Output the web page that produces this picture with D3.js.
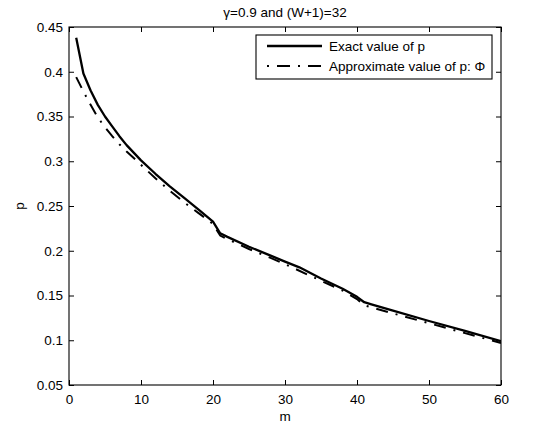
<!DOCTYPE html>
<html>
<head>
<meta charset="utf-8">
<script src="https://cdn.jsdelivr.net/npm/d3@7"></script>
<style>
  html, body { margin: 0; padding: 0; background: #fff; }
  svg { display: block; }
  text { font-family: "Liberation Sans", Arial, Helvetica, sans-serif; fill: #000; }
</style>
</head>
<body>
<svg id="chart" width="552" height="428"></svg>
<script>
// ---- data ----
const titleText = "γ=0.9 and (W+1)=32";
const xLabel = "m";
const yLabel = "p";
const seriesNames = ["Exact value of p", "Approximate value of p: Φ"];

const exactM = [1, 2, 3, 4, 5, 6, 7, 8, 10, 12, 14, 16, 18, 20, 21, 22, 25, 28, 30, 32, 35, 38, 40, 41, 42, 45, 50, 55, 60];
const exactP = [0.438, 0.398, 0.379, 0.363, 0.350, 0.339, 0.328, 0.318, 0.301, 0.286, 0.272, 0.259, 0.246, 0.2325, 0.2195, 0.2155, 0.2045, 0.1945, 0.1878, 0.1815, 0.1690, 0.1575, 0.1485, 0.1425, 0.1400, 0.1330, 0.1215, 0.1105, 0.0990];

const approxM = [1, 2, 3, 4, 5, 6, 7, 8, 10, 12, 14, 16, 18, 20, 21, 22, 25, 28, 30, 35, 38, 40, 41, 45, 50, 55, 60];
const approxP = [0.394, 0.378, 0.363, 0.349, 0.338, 0.328, 0.319, 0.311, 0.296, 0.281, 0.267, 0.254, 0.242, 0.230, 0.217, 0.213, 0.202, 0.192, 0.185, 0.1665, 0.1555, 0.146, 0.139, 0.130, 0.119, 0.108, 0.097];

const xTicks = [0, 10, 20, 30, 40, 50, 60];
const yTicks = [0.05, 0.1, 0.15, 0.2, 0.25, 0.3, 0.35, 0.4, 0.45];
const xDomain = [0, 60];
const yDomain = [0.05, 0.45];

// ---- layout ----
const L = 69, R = 501, T = 27, B = 385;
const svg = d3.select("#chart");
const x = d3.scaleLinear().domain(xDomain).range([L, R]);
const y = d3.scaleLinear().domain(yDomain).range([B, T]);
const fs = 13.5;
const tickLen = 5;

const fmtY = d => String(+d.toFixed(2));

// axes (MATLAB style, ticks inward, box on)
const axB = svg.append("g").attr("transform", `translate(0,${B})`)
  .call(d3.axisBottom(x).tickValues(xTicks).tickSizeInner(-tickLen).tickSizeOuter(0).tickPadding(9).tickFormat(d3.format("d")));
const axT = svg.append("g").attr("transform", `translate(0,${T})`)
  .call(d3.axisTop(x).tickValues(xTicks).tickSizeInner(-tickLen).tickSizeOuter(0).tickFormat(""));
const axL = svg.append("g").attr("transform", `translate(${L},0)`)
  .call(d3.axisLeft(y).tickValues(yTicks).tickSizeInner(-tickLen).tickSizeOuter(0).tickPadding(6).tickFormat(fmtY));
const axR = svg.append("g").attr("transform", `translate(${R},0)`)
  .call(d3.axisRight(y).tickValues(yTicks).tickSizeInner(-tickLen).tickSizeOuter(0).tickFormat(""));

[axB, axT, axL, axR].forEach(g => {
  g.select(".domain").remove();
  g.selectAll("line").attr("stroke", "#000").attr("stroke-width", 1);
  g.selectAll("text").attr("font-size", fs).attr("fill", "#000")
    .style("font-family", '"Liberation Sans", Arial, sans-serif');
});
axB.selectAll("text").attr("dy", "0.71em");

svg.append("rect").attr("x", L).attr("y", T).attr("width", R - L).attr("height", B - T)
  .attr("fill", "none").attr("stroke", "#000").attr("stroke-width", 1.1);

// lines
const exactData = exactM.map((m, i) => [m, exactP[i]]);
const approxData = approxM.map((m, i) => [m, approxP[i]]);
const line = d3.line().x(d => x(d[0])).y(d => y(d[1]));

svg.append("clipPath").attr("id", "clip").append("rect")
  .attr("x", L).attr("y", T).attr("width", R - L).attr("height", B - T);

const plot = svg.append("g").attr("clip-path", "url(#clip)");
plot.append("path").datum(approxData).attr("d", line)
  .attr("fill", "none").attr("stroke", "#000").attr("stroke-width", 2)
  .attr("stroke-dasharray", "12,8,2,8");
plot.append("path").datum(exactData).attr("d", line)
  .attr("fill", "none").attr("stroke", "#000").attr("stroke-width", 2.3)
  .attr("stroke-linejoin", "round");

// title & labels
svg.append("text").attr("x", (L + R) / 2).attr("y", 17).attr("text-anchor", "middle")
  .attr("font-size", fs).text(titleText);
svg.append("text").attr("x", (L + R) / 2).attr("y", 421).attr("text-anchor", "middle")
  .attr("font-size", fs).text(xLabel);
svg.append("text").attr("transform", `translate(24,${(T + B) / 2}) rotate(-90)`)
  .attr("text-anchor", "middle").attr("font-size", fs).text(yLabel);

// legend
const lg = svg.append("g");
const lgX = 256, lgY = 35, lgW = 236, lgH = 44;
lg.append("rect").attr("x", lgX).attr("y", lgY).attr("width", lgW).attr("height", lgH)
  .attr("fill", "#fff").attr("stroke", "#000").attr("stroke-width", 1.1);
const rowsY = [lgY + 11, lgY + 31];
const styles = [{w: 2.3, dash: null}, {w: 2, dash: "2,8,13,8"}];
seriesNames.forEach((name, i) => {
  const l = lg.append("line").attr("x1", lgX + 11).attr("x2", lgX + 66)
    .attr("y1", rowsY[i]).attr("y2", rowsY[i])
    .attr("stroke", "#000").attr("stroke-width", styles[i].w);
  if (styles[i].dash) l.attr("stroke-dasharray", styles[i].dash);
  lg.append("text").attr("x", lgX + 73).attr("y", rowsY[i]).attr("dy", "0.35em")
    .attr("font-size", 13.5).text(name);
});
</script>
</body>
</html>
